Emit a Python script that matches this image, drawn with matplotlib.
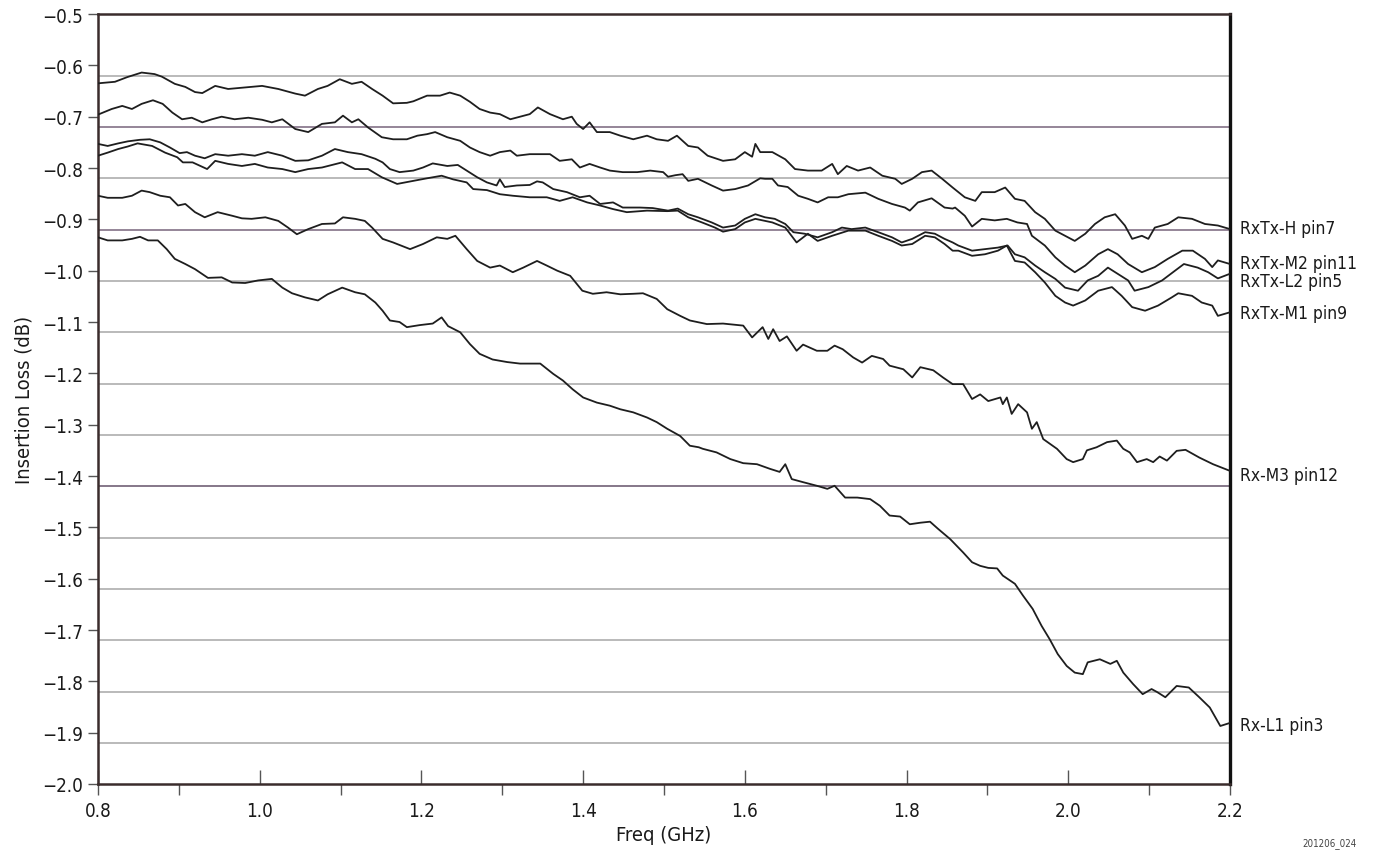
import numpy as np
import matplotlib
matplotlib.use("Agg")
from matplotlib import pyplot as plt
from matplotlib.ticker import FixedLocator, FuncFormatter

plt.rcParams['font.family'] = ['DejaVu Sans']
plt.rcParams['font.stretch'] = 'condensed'

# insertion loss curves (GHz, dB)
freq_h = [0.800, 0.821, 0.836, 0.854, 0.870, 0.879, 0.895, 0.908, 0.920, 0.929, 0.945, 0.961, 0.982, 1.003, 1.023, 1.044,
          1.056, 1.072, 1.084, 1.099, 1.114, 1.126, 1.139, 1.152, 1.165, 1.182, 1.190, 1.207, 1.223, 1.235, 1.248, 1.260,
          1.272, 1.285, 1.297, 1.310, 1.322, 1.334, 1.344, 1.359, 1.375, 1.386, 1.392, 1.400, 1.408, 1.417, 1.433, 1.446,
          1.462, 1.479, 1.491, 1.505, 1.516, 1.530, 1.542, 1.554, 1.573, 1.588, 1.600, 1.609, 1.613, 1.619, 1.634, 1.650,
          1.662, 1.678, 1.695, 1.708, 1.715, 1.726, 1.740, 1.755, 1.770, 1.786, 1.794, 1.807, 1.819, 1.831, 1.844, 1.857,
          1.872, 1.885, 1.893, 1.909, 1.922, 1.934, 1.946, 1.959, 1.971, 1.984, 1.996, 2.008, 2.021, 2.033, 2.045, 2.058,
          2.070, 2.079, 2.091, 2.099, 2.107, 2.123, 2.136, 2.153, 2.169, 2.185, 2.200]
loss_h = [-0.635, -0.632, -0.623, -0.614, -0.617, -0.622, -0.636, -0.642, -0.652, -0.654, -0.640, -0.646, -0.643, -0.640, -0.646, -0.655,
          -0.659, -0.646, -0.640, -0.627, -0.636, -0.632, -0.646, -0.659, -0.674, -0.673, -0.670, -0.659, -0.659, -0.653, -0.659, -0.671,
          -0.685, -0.692, -0.695, -0.705, -0.700, -0.695, -0.682, -0.695, -0.705, -0.700, -0.714, -0.724, -0.711, -0.730, -0.730, -0.737,
          -0.744, -0.737, -0.744, -0.747, -0.737, -0.757, -0.760, -0.776, -0.786, -0.783, -0.769, -0.778, -0.753, -0.769, -0.769, -0.783,
          -0.802, -0.805, -0.805, -0.792, -0.812, -0.796, -0.805, -0.799, -0.815, -0.821, -0.831, -0.821, -0.808, -0.805, -0.821, -0.838,
          -0.857, -0.864, -0.847, -0.847, -0.838, -0.860, -0.864, -0.886, -0.899, -0.922, -0.932, -0.942, -0.928, -0.909, -0.896, -0.890,
          -0.912, -0.938, -0.932, -0.938, -0.916, -0.909, -0.896, -0.899, -0.909, -0.912, -0.919]

freq_m2 = [0.800, 0.817, 0.830, 0.842, 0.854, 0.868, 0.880, 0.892, 0.904, 0.916, 0.929, 0.941, 0.953, 0.969, 0.986, 1.003,
           1.015, 1.028, 1.044, 1.060, 1.077, 1.093, 1.103, 1.114, 1.122, 1.134, 1.151, 1.165, 1.182, 1.195, 1.207, 1.217,
           1.232, 1.248, 1.260, 1.272, 1.285, 1.297, 1.310, 1.318, 1.334, 1.359, 1.371, 1.386, 1.396, 1.408, 1.421, 1.433,
           1.449, 1.467, 1.483, 1.499, 1.505, 1.514, 1.523, 1.530, 1.542, 1.559, 1.573, 1.588, 1.604, 1.619, 1.625, 1.634,
           1.641, 1.653, 1.666, 1.678, 1.690, 1.703, 1.715, 1.728, 1.749, 1.765, 1.782, 1.798, 1.804, 1.814, 1.831, 1.847,
           1.857, 1.860, 1.872, 1.881, 1.893, 1.909, 1.924, 1.937, 1.949, 1.955, 1.971, 1.984, 1.996, 2.008, 2.021, 2.037,
           2.049, 2.061, 2.074, 2.091, 2.107, 2.123, 2.141, 2.154, 2.169, 2.178, 2.185, 2.200]
loss_m2 = [-0.696, -0.685, -0.679, -0.685, -0.675, -0.668, -0.675, -0.692, -0.705, -0.702, -0.711, -0.705, -0.700, -0.705, -0.702, -0.706,
           -0.711, -0.705, -0.724, -0.730, -0.714, -0.711, -0.698, -0.711, -0.705, -0.721, -0.740, -0.744, -0.744, -0.737, -0.734, -0.730,
           -0.740, -0.747, -0.760, -0.769, -0.776, -0.769, -0.766, -0.776, -0.773, -0.773, -0.786, -0.783, -0.799, -0.792, -0.799, -0.805,
           -0.808, -0.808, -0.805, -0.808, -0.817, -0.814, -0.812, -0.825, -0.821, -0.834, -0.844, -0.841, -0.834, -0.820, -0.821, -0.821,
           -0.834, -0.837, -0.854, -0.860, -0.867, -0.857, -0.857, -0.851, -0.848, -0.860, -0.870, -0.877, -0.883, -0.867, -0.859, -0.877,
           -0.879, -0.877, -0.893, -0.914, -0.899, -0.902, -0.899, -0.906, -0.909, -0.932, -0.951, -0.974, -0.990, -1.003, -0.990, -0.968,
           -0.958, -0.968, -0.987, -1.003, -0.993, -0.977, -0.961, -0.961, -0.977, -0.993, -0.980, -0.987]

freq_l2 = [0.800, 0.812, 0.825, 0.837, 0.852, 0.864, 0.877, 0.889, 0.901, 0.910, 0.920, 0.932, 0.945, 0.961, 0.978, 0.994,
           1.010, 1.028, 1.044, 1.060, 1.077, 1.093, 1.109, 1.126, 1.143, 1.152, 1.161, 1.173, 1.190, 1.202, 1.214, 1.232,
           1.245, 1.256, 1.269, 1.281, 1.293, 1.297, 1.303, 1.318, 1.334, 1.343, 1.350, 1.363, 1.380, 1.396, 1.408, 1.421,
           1.437, 1.449, 1.470, 1.486, 1.505, 1.517, 1.530, 1.542, 1.559, 1.573, 1.588, 1.600, 1.613, 1.625, 1.637, 1.650,
           1.660, 1.674, 1.690, 1.708, 1.720, 1.732, 1.749, 1.765, 1.782, 1.794, 1.807, 1.823, 1.835, 1.847, 1.857, 1.864,
           1.881, 1.897, 1.913, 1.925, 1.934, 1.946, 1.959, 1.971, 1.984, 1.996, 2.012, 2.024, 2.037, 2.049, 2.061, 2.074,
           2.082, 2.099, 2.116, 2.132, 2.143, 2.160, 2.173, 2.185, 2.200]
loss_l2 = [-0.753, -0.757, -0.752, -0.748, -0.745, -0.744, -0.750, -0.760, -0.771, -0.769, -0.776, -0.781, -0.773, -0.776, -0.773, -0.776,
           -0.769, -0.776, -0.786, -0.785, -0.776, -0.763, -0.769, -0.773, -0.782, -0.789, -0.802, -0.808, -0.805, -0.799, -0.791, -0.796,
           -0.794, -0.805, -0.818, -0.828, -0.834, -0.822, -0.837, -0.834, -0.833, -0.826, -0.828, -0.841, -0.847, -0.857, -0.854, -0.870,
           -0.867, -0.877, -0.877, -0.878, -0.883, -0.879, -0.890, -0.896, -0.906, -0.916, -0.912, -0.899, -0.890, -0.896, -0.899, -0.909,
           -0.925, -0.928, -0.935, -0.925, -0.916, -0.919, -0.916, -0.925, -0.935, -0.945, -0.938, -0.925, -0.928, -0.938, -0.945, -0.951,
           -0.961, -0.958, -0.955, -0.951, -0.968, -0.974, -0.990, -1.003, -1.016, -1.033, -1.039, -1.019, -1.010, -0.994, -1.006, -1.019,
           -1.039, -1.032, -1.019, -1.000, -0.987, -0.994, -1.003, -1.015, -1.006]

freq_m1 = [0.800, 0.812, 0.825, 0.837, 0.849, 0.867, 0.883, 0.898, 0.905, 0.917, 0.935, 0.945, 0.961, 0.978, 0.994, 1.010,
           1.028, 1.044, 1.060, 1.077, 1.102, 1.118, 1.134, 1.151, 1.170, 1.190, 1.207, 1.225, 1.239, 1.256, 1.264, 1.281,
           1.297, 1.313, 1.334, 1.355, 1.371, 1.387, 1.405, 1.421, 1.437, 1.454, 1.479, 1.504, 1.517, 1.530, 1.547, 1.563,
           1.573, 1.588, 1.600, 1.613, 1.634, 1.650, 1.664, 1.678, 1.690, 1.708, 1.728, 1.749, 1.765, 1.782, 1.794, 1.807,
           1.823, 1.835, 1.847, 1.857, 1.864, 1.881, 1.897, 1.913, 1.924, 1.934, 1.946, 1.959, 1.971, 1.984, 1.996, 2.006,
           2.021, 2.037, 2.054, 2.066, 2.079, 2.095, 2.111, 2.128, 2.136, 2.153, 2.165, 2.178, 2.185, 2.200]
loss_m1 = [-0.776, -0.770, -0.763, -0.758, -0.752, -0.757, -0.770, -0.779, -0.789, -0.789, -0.802, -0.786, -0.792, -0.796, -0.792, -0.799,
           -0.802, -0.808, -0.802, -0.799, -0.789, -0.802, -0.802, -0.818, -0.831, -0.825, -0.820, -0.815, -0.822, -0.828, -0.841, -0.843,
           -0.851, -0.854, -0.857, -0.857, -0.864, -0.857, -0.867, -0.873, -0.880, -0.886, -0.883, -0.884, -0.883, -0.896, -0.906, -0.916,
           -0.924, -0.919, -0.906, -0.899, -0.906, -0.916, -0.945, -0.928, -0.942, -0.932, -0.922, -0.922, -0.932, -0.942, -0.951, -0.948,
           -0.932, -0.935, -0.948, -0.961, -0.961, -0.971, -0.968, -0.961, -0.951, -0.981, -0.984, -1.003, -1.023, -1.049, -1.062, -1.068,
           -1.058, -1.039, -1.032, -1.049, -1.071, -1.078, -1.068, -1.052, -1.044, -1.049, -1.062, -1.068, -1.088, -1.081]

freq_m3 = [0.800, 0.812, 0.830, 0.842, 0.854, 0.864, 0.877, 0.889, 0.899, 0.908, 0.920, 0.932, 0.948, 0.966, 0.978, 0.990,
           1.007, 1.023, 1.035, 1.046, 1.060, 1.077, 1.093, 1.103, 1.118, 1.130, 1.139, 1.152, 1.165, 1.186, 1.202, 1.219,
           1.232, 1.242, 1.256, 1.269, 1.285, 1.297, 1.313, 1.326, 1.343, 1.355, 1.368, 1.384, 1.399, 1.412, 1.429, 1.446,
           1.462, 1.474, 1.491, 1.504, 1.520, 1.532, 1.553, 1.573, 1.598, 1.609, 1.622, 1.629, 1.635, 1.643, 1.652, 1.664,
           1.672, 1.689, 1.702, 1.711, 1.721, 1.734, 1.745, 1.757, 1.771, 1.779, 1.796, 1.807, 1.817, 1.833, 1.845, 1.857,
           1.870, 1.881, 1.891, 1.901, 1.916, 1.919, 1.924, 1.930, 1.938, 1.949, 1.955, 1.961, 1.969, 1.986, 1.998, 2.006,
           2.018, 2.023, 2.035, 2.048, 2.060, 2.068, 2.076, 2.085, 2.097, 2.105, 2.113, 2.122, 2.134, 2.145, 2.162, 2.179,
           2.200]
loss_m3 = [-0.854, -0.858, -0.858, -0.854, -0.844, -0.847, -0.854, -0.857, -0.873, -0.870, -0.886, -0.896, -0.886, -0.893, -0.898, -0.899,
           -0.896, -0.903, -0.916, -0.929, -0.919, -0.909, -0.908, -0.896, -0.899, -0.903, -0.916, -0.938, -0.945, -0.958, -0.948, -0.935,
           -0.938, -0.932, -0.958, -0.981, -0.994, -0.990, -1.003, -0.994, -0.981, -0.990, -1.000, -1.010, -1.039, -1.045, -1.042, -1.046,
           -1.045, -1.044, -1.055, -1.075, -1.088, -1.097, -1.104, -1.103, -1.107, -1.130, -1.110, -1.133, -1.114, -1.137, -1.128, -1.156,
           -1.144, -1.156, -1.156, -1.146, -1.153, -1.169, -1.179, -1.166, -1.172, -1.185, -1.192, -1.208, -1.188, -1.194, -1.208, -1.221,
           -1.221, -1.250, -1.241, -1.254, -1.247, -1.260, -1.247, -1.279, -1.260, -1.276, -1.308, -1.295, -1.328, -1.347, -1.367, -1.373,
           -1.367, -1.350, -1.344, -1.334, -1.331, -1.347, -1.354, -1.373, -1.367, -1.373, -1.362, -1.370, -1.351, -1.349, -1.364, -1.377,
           -1.390]

freq_l1 = [0.800, 0.812, 0.830, 0.842, 0.852, 0.862, 0.874, 0.885, 0.895, 0.908, 0.920, 0.936, 0.953, 0.966, 0.982, 0.998,
           1.015, 1.028, 1.040, 1.056, 1.072, 1.084, 1.102, 1.118, 1.130, 1.143, 1.152, 1.161, 1.173, 1.182, 1.198, 1.214,
           1.225, 1.233, 1.248, 1.260, 1.272, 1.288, 1.306, 1.322, 1.338, 1.347, 1.363, 1.375, 1.387, 1.400, 1.417, 1.433,
           1.446, 1.462, 1.479, 1.491, 1.504, 1.520, 1.532, 1.543, 1.548, 1.565, 1.582, 1.598, 1.615, 1.631, 1.643, 1.650,
           1.658, 1.672, 1.689, 1.702, 1.711, 1.724, 1.739, 1.755, 1.767, 1.779, 1.792, 1.804, 1.817, 1.829, 1.839, 1.854,
           1.870, 1.881, 1.891, 1.901, 1.912, 1.919, 1.934, 1.944, 1.956, 1.967, 1.977, 1.987, 1.998, 2.008, 2.018, 2.024,
           2.039, 2.052, 2.060, 2.068, 2.080, 2.092, 2.103, 2.110, 2.120, 2.134, 2.149, 2.162, 2.175, 2.188, 2.200]
loss_l1 = [-0.935, -0.941, -0.941, -0.938, -0.934, -0.941, -0.941, -0.958, -0.977, -0.987, -0.997, -1.014, -1.013, -1.023, -1.024, -1.019,
           -1.016, -1.033, -1.044, -1.052, -1.058, -1.046, -1.033, -1.042, -1.046, -1.062, -1.078, -1.097, -1.100, -1.110, -1.106, -1.103,
           -1.091, -1.108, -1.120, -1.143, -1.162, -1.173, -1.178, -1.181, -1.181, -1.181, -1.201, -1.214, -1.231, -1.247, -1.257, -1.263,
           -1.270, -1.276, -1.286, -1.295, -1.308, -1.322, -1.341, -1.344, -1.347, -1.354, -1.367, -1.375, -1.377, -1.386, -1.392, -1.377,
           -1.406, -1.412, -1.419, -1.425, -1.419, -1.442, -1.442, -1.445, -1.458, -1.477, -1.479, -1.494, -1.491, -1.489, -1.503, -1.523,
           -1.549, -1.568, -1.575, -1.579, -1.580, -1.594, -1.610, -1.633, -1.659, -1.692, -1.718, -1.747, -1.770, -1.783, -1.786, -1.763,
           -1.757, -1.766, -1.760, -1.783, -1.805, -1.825, -1.815, -1.821, -1.831, -1.809, -1.812, -1.831, -1.851, -1.887, -1.881]

curves = [(freq_h, loss_h), (freq_m2, loss_m2), (freq_l2, loss_l2), (freq_m1, loss_m1), (freq_m3, loss_m3), (freq_l1, loss_l1)]

labels = ['RxTx-H pin7', 'RxTx-M2 pin11', 'RxTx-L2 pin5', 'RxTx-M1 pin9', 'Rx-M3 pin12', 'Rx-L1 pin3']
label_y = [-0.917, -0.985, -1.020, -1.083, -1.398, -1.885]

grid_levels = [-0.62, -0.72, -0.82, -0.92, -1.02, -1.12, -1.22, -1.32, -1.42, -1.52, -1.62, -1.72, -1.82, -1.92]
grid_colors = ['#b4b4b4', '#8c7c90', '#b4b4b4', '#8c7c90', '#b4b4b4', '#b4b4b4', '#b4b4b4',
               '#b4b4b4', '#7c6c80', '#b4b4b4', '#b4b4b4', '#b4b4b4', '#b4b4b4', '#b4b4b4']


def one_dec(v, pos):
    return ('%.1f' % v).replace('-', '\u2212')


fig = plt.figure(figsize=(13.76, 8.54), dpi=100)
ax = fig.add_axes([0.0712, 0.0808, 0.8227, 0.9016])

for lvl, c in zip(grid_levels, grid_colors):
    ax.axhline(lvl, color=c, lw=1.3, zorder=1)

for f, l in curves:
    ax.plot(f, l, color='#1e1e1e', lw=1.3, zorder=3)

for lab, yv in zip(labels, label_y):
    ax.text(2.212, yv, lab, fontsize=12.5, color='#1a1a1a', va='center', ha='left', clip_on=False)

ax.set_xlim(0.8, 2.2)
ax.set_ylim(-2.0, -0.5)

ax.set_yticks(np.arange(-2.0, -0.45, 0.1))
ax.yaxis.set_major_formatter(FuncFormatter(one_dec))
ax.set_xticks(np.arange(0.8, 2.21, 0.2))
ax.xaxis.set_major_formatter(FuncFormatter(one_dec))
ax.xaxis.set_minor_locator(FixedLocator([0.8, 0.9, 1.1, 1.3, 1.5, 1.7, 1.9, 2.1, 2.2]))
ax.xaxis.remove_overlapping_locs = False

ax.tick_params(axis='y', direction='out', length=7, width=1.0, color='#555555', labelsize=13.5, labelcolor='#1a1a1a', pad=4)
ax.tick_params(axis='x', which='major', direction='in', length=10, width=1.0, color='#555555', labelsize=13.5,
               labelcolor='#1a1a1a', pad=12)
ax.tick_params(axis='x', which='minor', direction='out', length=8, width=1.0, color='#555555')

for side in ['left', 'bottom', 'top']:
    ax.spines[side].set_color('#3a2c2c')
    ax.spines[side].set_linewidth(1.8)
ax.spines['right'].set_color('#111111')
ax.spines['right'].set_linewidth(2.4)

ax.set_xlabel('Freq (GHz)', fontsize=14.5, color='#1a1a1a', labelpad=4)
ax.set_ylabel('Insertion Loss (dB)', fontsize=14.5, color='#1a1a1a', labelpad=6)

fig.text(0.9665, 0.0125, '201206_024', fontsize=7, color='#444444', ha='center', va='center')

fig.savefig('out.png', dpi=100)
